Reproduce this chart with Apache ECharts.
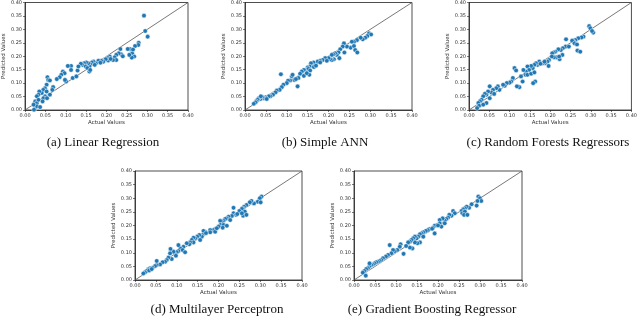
<!DOCTYPE html>
<html><head><meta charset="utf-8">
<script src="https://cdn.jsdelivr.net/npm/echarts@6/dist/echarts.min.js"></script>
<style>html,body{margin:0;padding:0;background:#fff}#c{width:640px;height:318px}</style>
</head><body><div id="c"></div>
<script>
// [actual, predicted] pairs per model
const linearRegression = [
[0.292,0.351],[0.295,0.294],[0.301,0.273],[0.279,0.25],[0.278,0.242],[0.27,0.238],[0.262,0.223],[0.263,0.211],
[0.257,0.227],[0.252,0.227],[0.268,0.199],[0.262,0.195],[0.256,0.205],[0.236,0.207],[0.234,0.227],[0.23,0.211],
[0.224,0.205],[0.22,0.196],[0.224,0.186],[0.216,0.186],[0.208,0.199],[0.203,0.193],[0.204,0.184],[0.198,0.189],
[0.192,0.18],[0.187,0.183],[0.18,0.183],[0.174,0.174],[0.168,0.18],[0.164,0.177],[0.16,0.17],[0.158,0.162],
[0.155,0.174],[0.15,0.177],[0.145,0.174],[0.141,0.168],[0.137,0.172],[0.149,0.162],[0.153,0.156],[0.158,0.143],
[0.16,0.149],[0.129,0.147],[0.131,0.162],[0.113,0.164],[0.105,0.164],[0.113,0.149],[0.117,0.119],[0.126,0.125],
[0.093,0.143],[0.097,0.137],[0.089,0.131],[0.085,0.122],[0.078,0.115],[0.101,0.106],[0.098,0.112],[0.055,0.122],
[0.057,0.112],[0.061,0.11],[0.069,0.085],[0.067,0.075],[0.061,0.057],[0.053,0.094],[0.049,0.081],[0.045,0.075],
[0.041,0.063],[0.035,0.069],[0.033,0.057],[0.029,0.051],[0.053,0.069],[0.049,0.051],[0.045,0.044],[0.043,0.032],
[0.025,0.032],[0.029,0.026],[0.033,0.038],[0.025,0.007],[0.029,0.014],[0.037,0.011],[0.021,0.02],[0.022,0.001],
[0.054,0.044],[0.171,0.168],[0.185,0.176],[0.21,0.19],[0.24,0.2],[0.265,0.225]
];
const simpleANN = [
[0.297,0.285],[0.302,0.281],[0.293,0.275],[0.288,0.269],[0.282,0.263],[0.277,0.269],[0.268,0.26],[0.261,0.254],
[0.256,0.254],[0.253,0.232],[0.261,0.238],[0.264,0.223],[0.269,0.214],[0.244,0.236],[0.237,0.248],[0.234,0.236],
[0.238,0.214],[0.228,0.226],[0.224,0.214],[0.22,0.205],[0.216,0.211],[0.212,0.207],[0.208,0.205],[0.226,0.193],
[0.213,0.189],[0.208,0.186],[0.204,0.189],[0.2,0.193],[0.192,0.193],[0.186,0.186],[0.18,0.183],[0.174,0.18],
[0.18,0.177],[0.164,0.177],[0.16,0.168],[0.158,0.174],[0.155,0.162],[0.15,0.158],[0.147,0.149],[0.152,0.153],
[0.141,0.149],[0.136,0.143],[0.132,0.135],[0.141,0.127],[0.156,0.147],[0.154,0.131],[0.148,0.137],[0.128,0.119],
[0.118,0.112],[0.112,0.125],[0.114,0.131],[0.108,0.11],[0.103,0.109],[0.1,0.1],[0.086,0.133],[0.126,0.088],
[0.092,0.094],[0.088,0.085],[0.083,0.075],[0.076,0.072],[0.073,0.065],[0.067,0.057],[0.061,0.051],[0.057,0.051],
[0.049,0.047],[0.045,0.044],[0.041,0.048],[0.037,0.041],[0.033,0.044],[0.03,0.038],[0.027,0.032],[0.025,0.028],
[0.021,0.023],[0.038,0.051],[0.052,0.041],[0.165,0.16],[0.17,0.165],[0.196,0.183],[0.122,0.115]
];
const randomForests = [
[0.296,0.312],[0.299,0.304],[0.306,0.288],[0.303,0.294],[0.282,0.273],[0.277,0.27],[0.269,0.267],[0.262,0.26],
[0.258,0.254],[0.254,0.258],[0.26,0.248],[0.266,0.244],[0.267,0.221],[0.274,0.217],[0.239,0.263],[0.238,0.236],
[0.246,0.236],[0.231,0.23],[0.226,0.223],[0.22,0.226],[0.213,0.217],[0.209,0.214],[0.205,0.211],[0.23,0.205],
[0.223,0.189],[0.215,0.196],[0.222,0.199],[0.209,0.196],[0.204,0.199],[0.197,0.186],[0.193,0.18],[0.187,0.174],
[0.181,0.174],[0.196,0.164],[0.173,0.18],[0.169,0.168],[0.165,0.174],[0.161,0.168],[0.157,0.156],[0.153,0.164],
[0.144,0.162],[0.148,0.149],[0.14,0.143],[0.134,0.149],[0.139,0.131],[0.144,0.131],[0.153,0.135],[0.161,0.14],
[0.163,0.106],[0.158,0.1],[0.112,0.156],[0.116,0.147],[0.132,0.106],[0.124,0.085],[0.118,0.088],[0.108,0.119],
[0.104,0.106],[0.1,0.102],[0.093,0.1],[0.088,0.09],[0.084,0.094],[0.075,0.075],[0.071,0.088],[0.067,0.081],
[0.059,0.075],[0.051,0.088],[0.055,0.065],[0.047,0.069],[0.043,0.057],[0.051,0.044],[0.039,0.06],[0.035,0.051],
[0.031,0.038],[0.027,0.032],[0.023,0.026],[0.025,0.016],[0.02,0.007],[0.043,0.026],[0.035,0.02],[0.176,0.172],
[0.186,0.18],[0.128,0.125],[0.062,0.06]
];
const multilayerPerceptron = [
[0.303,0.306],[0.299,0.3],[0.294,0.287],[0.301,0.285],[0.285,0.281],[0.279,0.29],[0.275,0.285],[0.267,0.275],
[0.261,0.269],[0.258,0.263],[0.256,0.261],[0.25,0.253],[0.263,0.251],[0.259,0.236],[0.267,0.239],[0.256,0.245],
[0.236,0.265],[0.236,0.245],[0.242,0.239],[0.232,0.235],[0.224,0.232],[0.22,0.226],[0.216,0.224],[0.228,0.22],
[0.212,0.217],[0.208,0.214],[0.204,0.217],[0.205,0.202],[0.212,0.202],[0.22,0.199],[0.21,0.192],[0.2,0.196],
[0.192,0.187],[0.188,0.183],[0.18,0.183],[0.192,0.177],[0.18,0.175],[0.168,0.177],[0.164,0.18],[0.162,0.165],
[0.16,0.159],[0.154,0.165],[0.149,0.159],[0.144,0.153],[0.14,0.155],[0.156,0.147],[0.136,0.147],[0.14,0.138],
[0.132,0.138],[0.13,0.131],[0.124,0.135],[0.116,0.122],[0.109,0.116],[0.114,0.11],[0.12,0.102],[0.104,0.128],
[0.104,0.106],[0.1,0.102],[0.096,0.095],[0.098,0.089],[0.092,0.104],[0.085,0.114],[0.084,0.098],[0.088,0.077],
[0.08,0.082],[0.076,0.073],[0.072,0.067],[0.066,0.065],[0.06,0.057],[0.052,0.055],[0.052,0.07],[0.048,0.051],
[0.042,0.045],[0.036,0.043],[0.032,0.039],[0.028,0.033],[0.024,0.028],[0.02,0.024],[0.034,0.035],[0.04,0.04],
[0.17,0.172],[0.196,0.19],[0.245,0.242]
];
const gradientBoosting = [
[0.296,0.306],[0.3,0.3],[0.303,0.29],[0.294,0.29],[0.292,0.273],[0.28,0.278],[0.274,0.265],[0.268,0.269],
[0.264,0.263],[0.26,0.259],[0.256,0.253],[0.258,0.245],[0.264,0.251],[0.262,0.239],[0.27,0.239],[0.236,0.253],
[0.24,0.245],[0.232,0.236],[0.227,0.239],[0.224,0.229],[0.22,0.224],[0.216,0.218],[0.211,0.226],[0.204,0.22],
[0.204,0.208],[0.208,0.196],[0.216,0.208],[0.198,0.202],[0.192,0.199],[0.188,0.192],[0.192,0.171],[0.18,0.187],
[0.176,0.183],[0.171,0.18],[0.165,0.175],[0.161,0.171],[0.157,0.168],[0.165,0.159],[0.153,0.159],[0.149,0.153],
[0.145,0.159],[0.141,0.153],[0.157,0.138],[0.151,0.135],[0.145,0.138],[0.137,0.147],[0.133,0.141],[0.129,0.138],
[0.139,0.116],[0.133,0.119],[0.111,0.131],[0.109,0.122],[0.103,0.11],[0.097,0.106],[0.093,0.11],[0.089,0.098],
[0.118,0.096],[0.085,0.128],[0.081,0.092],[0.076,0.086],[0.069,0.08],[0.065,0.073],[0.061,0.07],[0.057,0.067],
[0.053,0.065],[0.049,0.061],[0.045,0.057],[0.041,0.055],[0.037,0.051],[0.033,0.043],[0.029,0.04],[0.025,0.033],
[0.021,0.027],[0.028,0.016],[0.037,0.061],[0.186,0.188],[0.2,0.2],[0.124,0.125]
];
const captions = ['(a) Linear Regression','(b) Simple ANN','(c) Random Forests Regressors','(d) Multilayer Perceptron','(e) Gradient Boosting Regressor'];
const diagonal = [0, 0.4];
const axisMin = 0, axisMax = 0.4, axisStep = 0.05;
const xName = 'Actual Values', yName = 'Predicted Values';

const panels = [linearRegression, simpleANN, randomForests, multilayerPerceptron, gradientBoosting];
const layout = [
  {left:21, top:2, width:167, height:108, cx:103, cy:143},
  {left:245, top:2, width:167, height:108, cx:325, cy:143},
  {left:469, top:2, width:164, height:108, cx:548, cy:143},
  {left:135, top:171, width:167, height:109, cx:217, cy:310},
  {left:354, top:171, width:168, height:109, cx:432, cy:310}
];
const ink = '#222';
const grid = [], xAxis = [], yAxis = [], series = [], graphic = [];
panels.forEach((pts, i) => {
  const L = layout[i];
  grid.push({left:L.left, top:L.top, width:L.width, height:L.height, show:true, borderColor:ink, borderWidth:0.8, backgroundColor:'transparent'});
  const common = {
    min:axisMin, max:axisMax, interval:axisStep, gridIndex:i, type:'value',
    axisLine:{show:true, onZero:false, lineStyle:{color:ink, width:0.8}},
    axisTick:{show:true, length:2, lineStyle:{color:ink, width:0.6}},
    axisLabel:{fontSize:5, color:'#333', fontFamily:'DejaVu Sans', margin:3, formatter:v=>v.toFixed(2)},
    splitLine:{show:false},
    nameLocation:'middle',
    nameTextStyle:{fontSize:5.5, color:'#333', fontFamily:'DejaVu Sans'}
  };
  xAxis.push(Object.assign({}, common, {name:xName, nameGap:10}));
  yAxis.push(Object.assign({}, common, {name:yName, nameGap:14}));
  series.push({type:'line', xAxisIndex:i, yAxisIndex:i, data:diagonal.map(v=>[v,v]), symbol:'none', silent:true,
    lineStyle:{color:'#555', width:0.8}, z:1});
  series.push({type:'scatter', xAxisIndex:i, yAxisIndex:i, data:pts, symbolSize:4.6,
    itemStyle:{color:'#1f77b4', borderColor:'#fff', borderWidth:0.5, opacity:1}, z:3});
  graphic.push({type:'text', x:L.cx, y:L.cy, style:{text:captions[i], fontSize:13, fontFamily:'Liberation Serif', fill:'#111', textAlign:'center', textVerticalAlign:'middle'}});
});
const chart = echarts.init(document.getElementById('c'), null, {renderer:'canvas'});
chart.setOption({animation:false, backgroundColor:'#fff', grid, xAxis, yAxis, series, graphic});
</script></body></html>
